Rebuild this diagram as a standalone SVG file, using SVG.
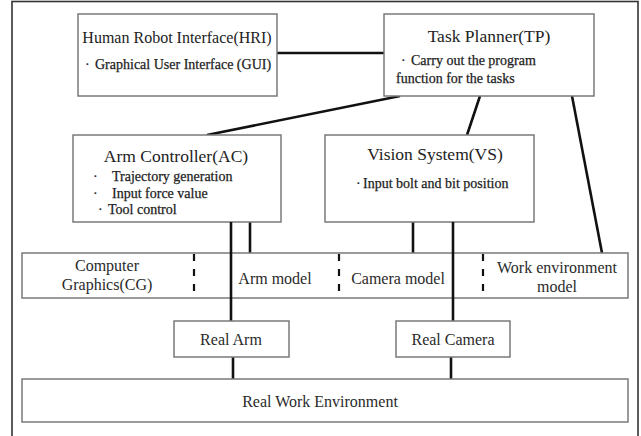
<svg xmlns="http://www.w3.org/2000/svg" width="641" height="436" viewBox="0 0 641 436">
  <style>
    .box { fill: #ffffff; stroke: #7a7a7a; stroke-width: 1.5; }
    .frame { fill: none; stroke: #333333; stroke-width: 1.6; }
    .link { stroke: #111111; stroke-width: 2.6; fill: none; }
    .sep { stroke: #111111; stroke-width: 2.2; stroke-dasharray: 7 8; }
    .title { font-family: "Liberation Serif", "Times New Roman", serif; font-size: 17.5px; fill: #222222; }
    .title-s { font-family: "Liberation Serif", "Times New Roman", serif; font-size: 16px; fill: #222222; }
    .item { font-family: "Liberation Serif", "Times New Roman", serif; font-size: 14px; fill: #222222; stroke: #222222; stroke-width: 0.25; }
    .lbl { font-family: "Liberation Serif", "Times New Roman", serif; font-size: 16px; fill: #2a2a2a; }
    .mid { text-anchor: middle; }
  </style>

  <rect width="641" height="436" fill="#ffffff"/>
  <rect class="frame" x="12" y="1.5" width="626" height="440"/>

  <!-- connectors -->
  <g id="connectors">
    <line class="link" x1="277" y1="53" x2="384" y2="53"/>
    <line class="link" x1="400" y1="96" x2="207" y2="135"/>
    <line class="link" x1="480" y1="96" x2="467" y2="135"/>
    <line class="link" x1="572" y1="96" x2="602" y2="253"/>
    <line class="link" x1="250" y1="222" x2="250" y2="253"/>
    <line class="link" x1="413" y1="222" x2="413" y2="253"/>
  </g>

  <g id="hri">
    <rect class="box" x="78" y="14" width="199" height="82"/>
    <text class="title-s mid" x="177" y="43">Human Robot Interface(HRI)</text>
    <text class="item" y="69"><tspan x="85">·</tspan><tspan x="95">Graphical User Interface (GUI)</tspan></text>
  </g>

  <g id="tp">
    <rect class="box" x="384" y="14" width="210" height="82"/>
    <text class="title mid" x="489" y="42">Task Planner(TP)</text>
    <text class="item" y="65"><tspan x="401">·</tspan><tspan x="411">Carry out the program</tspan></text>
    <text class="item" x="396" y="83">function for the tasks</text>
  </g>

  <g id="ac">
    <rect class="box" x="73" y="135" width="208" height="87"/>
    <text class="title mid" x="176" y="162">Arm Controller(AC)</text>
    <text class="item" y="181"><tspan x="93">·</tspan><tspan x="112">Trajectory generation</tspan></text>
    <text class="item" y="198"><tspan x="93">·</tspan><tspan x="112">Input force value</tspan></text>
    <text class="item" y="214"><tspan x="98">·</tspan><tspan x="108">Tool control</tspan></text>
  </g>

  <g id="vs">
    <rect class="box" x="325" y="135" width="209" height="87"/>
    <text class="title mid" x="435" y="160">Vision System(VS)</text>
    <text class="item" y="188"><tspan x="356">·</tspan><tspan x="363">Input bolt and bit position</tspan></text>
  </g>

  <g id="models">
    <rect class="box" x="22" y="253" width="606" height="45"/>
    <line class="sep" x1="194" y1="254" x2="194" y2="297"/>
    <line class="sep" x1="339" y1="254" x2="339" y2="297"/>
    <line class="sep" x1="483" y1="254" x2="483" y2="297"/>
    <text class="lbl mid" x="107" y="271">Computer</text>
    <text class="lbl mid" x="107" y="290">Graphics(CG)</text>
    <text class="lbl mid" x="275" y="284">Arm model</text>
    <text class="lbl mid" x="398" y="284">Camera model</text>
    <text class="lbl mid" x="557" y="273">Work environment</text>
    <text class="lbl mid" x="557" y="292">model</text>
  </g>

  <!-- pass-through links drawn over the model strip -->
  <g id="connectors-through">
    <line class="link" x1="231" y1="222" x2="231" y2="321"/>
    <line class="link" x1="453" y1="222" x2="453" y2="321"/>
    <line class="link" x1="233" y1="357" x2="233" y2="379"/>
    <line class="link" x1="451" y1="357" x2="451" y2="379"/>
  </g>

  <g id="real-arm">
    <rect class="box" x="174" y="321" width="115" height="36"/>
    <text class="lbl mid" x="231" y="345">Real Arm</text>
  </g>

  <g id="real-camera">
    <rect class="box" x="396" y="321" width="114" height="36"/>
    <text class="lbl mid" x="453" y="345">Real Camera</text>
  </g>

  <g id="real-work-environment">
    <rect class="box" x="22" y="379" width="606" height="43"/>
    <text class="lbl mid" x="320" y="407">Real Work Environment</text>
  </g>
</svg>
